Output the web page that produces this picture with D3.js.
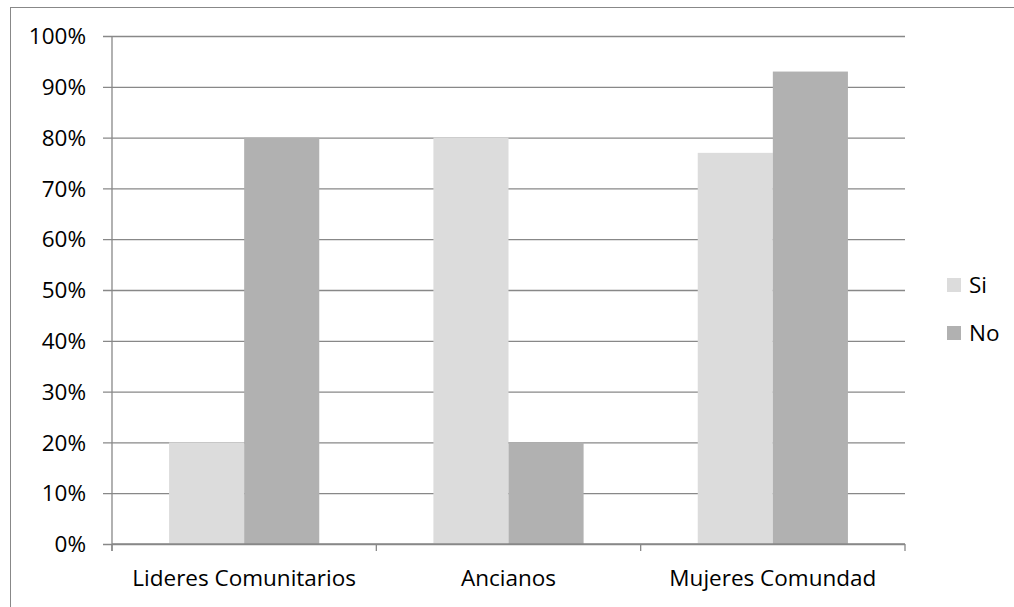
<!DOCTYPE html>
<html>
<head>
<meta charset="utf-8">
<script src="https://cdn.jsdelivr.net/npm/d3@7"></script>
<style>
  html, body { margin: 0; padding: 0; background: #fff; }
  svg { display: block; }
  text { font-family: "Open Sans", Lato, sans-serif; fill: #000; }
</style>
</head>
<body>
<svg id="chart" width="1014" height="607"></svg>
<script>
// Survey responses by group
const categories = ["Lideres Comunitarios", "Ancianos", "Mujeres Comundad"];
const seriesNames = ["Si", "No"];
const siValues = [0.20, 0.80, 0.77];
const noValues = [0.80, 0.20, 0.93];
const yTicks = [0, 0.1, 0.2, 0.3, 0.4, 0.5, 0.6, 0.7, 0.8, 0.9, 1.0];

const colors = { Si: "#dcdcdc", No: "#b1b1b1" };
const series = [
  { name: "Si", values: siValues },
  { name: "No", values: noValues }
];

const fontSize = 22.5;
const svg = d3.select("#chart");
const plot = { left: 112, right: 905, top: 36, bottom: 544 };

// outer frame
svg.append("rect")
  .attr("x", 10.5).attr("y", 7.5)
  .attr("width", 1100).attr("height", 700)
  .attr("fill", "none").attr("stroke", "#888").attr("stroke-width", 1);

const x0 = d3.scaleBand().domain(categories)
  .range([plot.left, plot.right]).paddingInner(0).paddingOuter(0);
const x1 = d3.scaleBand().domain(seriesNames)
  .range([0, x0.bandwidth()]).paddingInner(0).paddingOuter(0.76);
const y = d3.scaleLinear().domain([0, 1]).range([plot.bottom, plot.top]);

// gridlines with left tick stubs
const grid = svg.append("g")
  .attr("transform", `translate(${plot.left},0)`)
  .call(d3.axisLeft(y).tickValues(yTicks)
    .tickSize(-(plot.right - plot.left)).tickFormat(""));
grid.select(".domain").remove();
grid.selectAll(".tick line")
  .attr("x1", -9).attr("stroke", "#888").attr("stroke-width", 1.3);

// y labels
svg.append("g").selectAll("text").data(yTicks).join("text")
  .attr("x", 86).attr("y", d => y(d))
  .attr("dy", "0.36em").attr("text-anchor", "end")
  .attr("font-size", fontSize)
  .text(d3.format(".0%"));

// bars
const groups = svg.append("g").selectAll("g").data(categories).join("g")
  .attr("transform", c => `translate(${x0(c)},0)`);
groups.selectAll("rect")
  .data((c, i) => series.map(s => ({ name: s.name, v: s.values[i] })))
  .join("rect")
  .attr("x", d => x1(d.name))
  .attr("y", d => y(d.v))
  .attr("width", x1.bandwidth())
  .attr("height", d => plot.bottom - y(d.v))
  .attr("fill", d => colors[d.name]);

// y axis line
svg.append("line")
  .attr("x1", plot.left).attr("x2", plot.left)
  .attr("y1", plot.top).attr("y2", plot.bottom + 7)
  .attr("stroke", "#888").attr("stroke-width", 1.3);

// x axis with category boundary ticks
const xAxis = svg.append("g")
  .attr("transform", `translate(0,${plot.bottom})`);
xAxis.append("line")
  .attr("x1", plot.left).attr("x2", plot.right)
  .attr("stroke", "#888").attr("stroke-width", 1.3);
const bounds = categories.map(c => x0(c)).concat([plot.right]);
xAxis.selectAll("line.tk").data(bounds).join("line")
  .attr("class", "tk")
  .attr("x1", d => d).attr("x2", d => d)
  .attr("y1", 0).attr("y2", 7)
  .attr("stroke", "#888").attr("stroke-width", 1.3);
xAxis.selectAll("text").data(categories).join("text")
  .attr("x", c => x0(c) + x0.bandwidth() / 2)
  .attr("y", 42)
  .attr("text-anchor", "middle")
  .attr("font-size", fontSize)
  .text(c => c);

// legend
const legend = svg.append("g").selectAll("g").data(seriesNames).join("g")
  .attr("transform", (d, i) => `translate(947,${278 + i * 48})`);
legend.append("rect")
  .attr("width", 14).attr("height", 14)
  .attr("fill", d => colors[d]);
legend.append("text")
  .attr("x", 22).attr("y", 7).attr("dy", "0.36em")
  .attr("font-size", fontSize)
  .text(d => d);
</script>
</body>
</html>
